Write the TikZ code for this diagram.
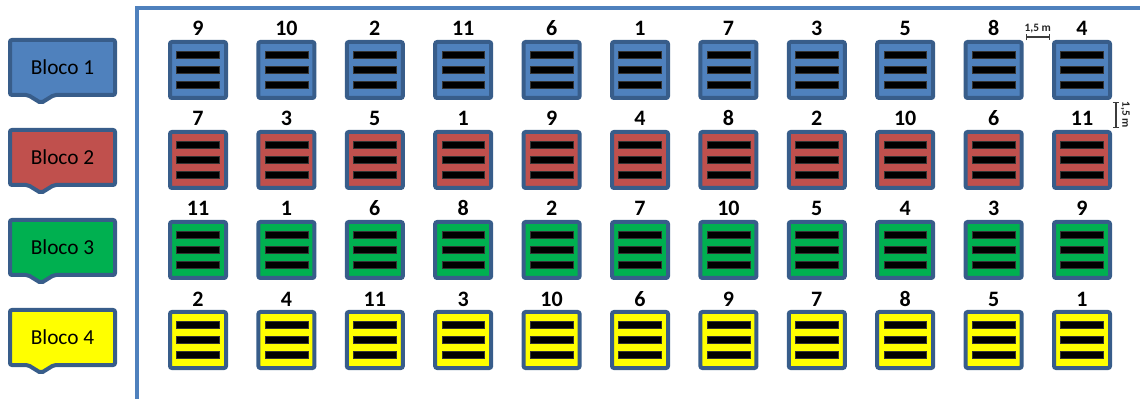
\documentclass[tikz,border=0pt]{standalone}
\usepackage{fontspec}
\setmainfont{Carlito}
\usetikzlibrary{arrows.meta,calc}
\definecolor{frameblue}{RGB}{79,129,189}
\definecolor{edgeblue}{RGB}{56,93,138}
\definecolor{fillA}{RGB}{79,129,189}
\definecolor{fillB}{RGB}{192,80,77}
\definecolor{fillC}{RGB}{0,176,80}
\definecolor{fillD}{RGB}{255,255,0}
\definecolor{dimgray}{RGB}{60,60,60}
\begin{document}
\begin{tikzpicture}[x=0.75pt,y=-0.75pt,
  plotbox/.style={draw=edgeblue, line width=3pt, rounded corners=1.5pt,
    minimum width=42pt, minimum height=42pt, inner sep=0pt},
  numlabel/.style={font=\bfseries\fontsize{16.5}{16.5}\selectfont, inner sep=0pt, anchor=base},
  blocklabel/.style={font=\fontsize{16}{16}\selectfont, inner sep=0pt},
  callout/.style={draw=edgeblue, line width=3pt, rounded corners=1.5pt},
  bar/.style={fill=black, draw=black!80, line width=0.3pt},
  dimline/.style={draw=dimgray, line width=0.8pt, {Bar[width=5pt]}-{Bar[width=5pt]}},
  dimtext/.style={font=\bfseries\fontsize{8.5}{8.5}\selectfont, text=black!85, inner sep=0pt}
]
\useasboundingbox (0,0) rectangle (1140,399);
% frame
\draw[frameblue, line width=2.3pt] (137,399) -- (137,8) -- (1140,8);

% block labels
\foreach \r/\col/\yc in {1/fillA/70, 2/fillB/160, 3/fillC/250, 4/fillD/340}{
  \draw[callout, fill=\col] (10,\yc-30) -- (115,\yc-30) -- (115,\yc+25) -- (54,\yc+25)
     -- (41,\yc+33) -- (28,\yc+25) -- (10,\yc+25) -- cycle;
  \node[blocklabel] (lab-\r) at (62.5,\yc-3) {Bloco \r};
}

% plots
\foreach \r/\col/\yc/\nums in {
  1/fillA/70/{9,10,2,11,6,1,7,3,5,8,4},
  2/fillB/160/{7,3,5,1,9,4,8,2,10,6,11},
  3/fillC/250/{11,1,6,8,2,7,10,5,4,3,9},
  4/fillD/340/{2,4,11,3,10,6,9,7,8,5,1}}{
  \foreach \n [count=\c] in \nums {
    \pgfmathsetmacro{\xc}{198+88.4*(\c-1)}
    \node[plotbox, fill=\col] (p-\r-\c) at (\xc,\yc) {};
    \foreach \dy in {-15,0,15}{
      \draw[bar] ([xshift=-16.1pt,yshift=-\dy*0.75pt-2.6pt]p-\r-\c.center) rectangle ++(32.2pt,5.2pt);
    }
    \node[numlabel] (n-\r-\c) at ([yshift=3pt]p-\r-\c.north) {\n};
  }
}

% dimension annotations
\coordinate (h1) at (p-1-10.east |- 0,37);
\coordinate (h2) at (p-1-11.west |- 0,37);
\draw[dimline] ([xshift=1.5pt]h1) -- ([xshift=-1.5pt]h2);
\node[dimtext, anchor=base] (dimh) at ($(h1)!0.5!(h2)+(0,3.8pt)$) {1,5 m};

\coordinate (v1) at (1116,0 |- p-1-11.south);
\coordinate (v2) at (1116,0 |- p-2-11.north);
\draw[dimline] ([yshift=-1.5pt]v1) -- ([yshift=1.5pt]v2);
\node[dimtext, rotate=-90] (dimv) at ($(v1)!0.5!(v2)+(7pt,0)$) {1,5 m};
\end{tikzpicture}
\end{document}
